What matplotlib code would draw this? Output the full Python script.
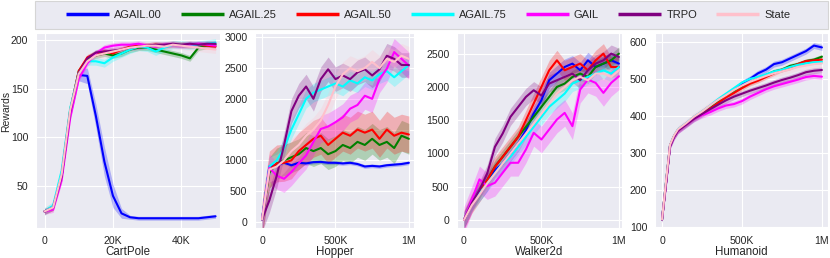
import numpy as np
import seaborn as sns
from matplotlib import pyplot as plt
from matplotlib.patches import Rectangle

sns.set_style("darkgrid")
plt.rcParams['font.family'] = ['Liberation Sans', 'DejaVu Sans']

names = ["AGAIL.00", "AGAIL.25", "AGAIL.50", "AGAIL.75", "GAIL", "TRPO", "State"]
colors = ["blue", "green", "red", "cyan", "magenta", "purple", "pink"]

# CartPole, steps 0..50K every 2.5K
cart_x = np.arange(0, 50001, 2500)
cart_y = [
    [24, 28, 60, 125, 164, 163, 122, 75, 40, 22, 18, 17, 17, 17, 17, 17, 17, 17, 17, 18, 19],
    [24, 28, 62, 128, 168, 180, 184, 186, 184, 186, 190, 192, 192, 190, 188, 186, 184, 181, 192, 194, 195],
    [24, 28, 62, 128, 168, 182, 186, 188, 186, 190, 193, 194, 194, 195, 194, 195, 195, 194, 195, 194, 193],
    [24, 30, 66, 130, 166, 178, 178, 176, 182, 186, 190, 193, 192, 188, 192, 195, 195, 194, 195, 196, 197],
    [24, 26, 56, 120, 160, 176, 186, 192, 194, 195, 195, 196, 194, 193, 195, 195, 194, 195, 196, 195, 194],
    [24, 28, 60, 126, 166, 181, 187, 188, 189, 190, 192, 193, 194, 195, 195, 196, 195, 196, 195, 196, 196],
    [24, 28, 62, 128, 165, 178, 184, 186, 188, 190, 192, 193, 194, 194, 193, 195, 194, 193, 192, 191, 190],
]
cart_band = [
    [1, 2, 3, 5, 6, 8, 12, 15, 12, 5, 2, 2, 2, 2, 2, 2, 2, 2, 2, 2, 2],
    3, 3, 4, 3, 3, 4,
]

# Hopper, steps 0..1M every 50K
hop_x = np.arange(0, 1000001, 50000)
hop_y = [
    [40, 900, 930, 960, 920, 960, 950, 970, 975, 960, 960, 950, 960, 940, 900, 910, 900, 920, 930, 940, 960],
    [40, 800, 950, 1000, 1050, 1100, 1200, 1150, 1200, 1100, 1150, 1250, 1200, 1300, 1250, 1350, 1250, 1300, 1200, 1400, 1350],
    [40, 850, 950, 960, 1000, 1150, 1250, 1350, 1400, 1250, 1350, 1450, 1400, 1500, 1450, 1500, 1350, 1500, 1400, 1450, 1420],
    [40, 900, 1000, 1200, 1500, 1750, 2000, 2100, 2150, 2200, 2250, 2200, 2300, 2250, 2350, 2300, 2400, 2450, 2350, 2450, 2550],
    [40, 880, 750, 700, 810, 950, 1080, 1300, 1510, 1550, 1620, 1700, 1840, 1900, 2050, 2000, 2320, 2490, 2760, 2650, 2540],
    [40, 350, 750, 1250, 1800, 2050, 2200, 2000, 2320, 2480, 2320, 2380, 2320, 2430, 2480, 2380, 2480, 2700, 2650, 2550, 2550],
    [40, 850, 900, 1000, 1150, 1250, 1400, 1500, 1650, 1900, 2200, 2400, 2500, 2450, 2500, 2600, 2500, 2650, 2600, 2700, 2650],
]
hop_band = [30, 250, 300, 150, 220, 200, 200]

# Walker2d
walk_x = np.arange(0, 1000001, 50000)
walk_y = [
    [0, 250, 400, 550, 750, 850, 1000, 1150, 1350, 1600, 1800, 2100, 2200, 2300, 2350, 2250, 2400, 2300, 2350, 2400, 2350],
    [0, 250, 420, 600, 800, 950, 1100, 1250, 1400, 1550, 1700, 1850, 2000, 2050, 2150, 2200, 2150, 2300, 2350, 2400, 2500],
    [0, 250, 420, 600, 800, 950, 1100, 1250, 1500, 1750, 2000, 2250, 2400, 2250, 2300, 2350, 2250, 2400, 2500, 2300, 2300],
    [0, 250, 400, 550, 700, 850, 950, 1100, 1250, 1400, 1550, 1700, 1800, 1900, 2050, 2100, 2150, 2200, 2250, 2200, 2300],
    [0, 300, 610, 510, 560, 710, 860, 860, 1060, 1310, 1210, 1360, 1510, 1610, 1410, 1960, 2110, 2060, 1910, 2060, 2160],
    [0, 250, 450, 700, 1100, 1300, 1550, 1700, 1850, 1950, 1870, 2050, 2100, 2150, 2200, 2100, 2250, 2350, 2400, 2500, 2450],
    [0, 220, 380, 550, 700, 850, 1000, 1150, 1300, 1450, 1600, 1750, 1900, 2000, 2100, 2150, 2100, 2200, 2200, 2150, 2250],
]
walk_band = [120, 100, 150, 120, 200, 130, 100]

# Humanoid, extra samples at 25K and 75K for the early rise
hum_x = np.array([0, 25000, 50000, 75000] + list(range(100000, 1000001, 50000)))
hum_y = [
    [120, 220, 320, 345, 362, 378, 395, 410, 425, 440, 455, 470, 488, 500, 515, 525, 540, 545, 555, 565, 575, 590, 585],
    [120, 220, 320, 345, 362, 378, 395, 410, 425, 440, 455, 468, 480, 490, 500, 510, 520, 525, 535, 540, 548, 552, 560],
    [120, 220, 320, 345, 362, 378, 395, 408, 420, 435, 450, 462, 475, 487, 495, 505, 515, 525, 530, 540, 548, 550, 552],
    [120, 222, 320, 346, 364, 380, 398, 412, 428, 445, 460, 475, 490, 500, 505, 512, 520, 525, 532, 538, 542, 545, 546],
    [120, 216, 318, 343, 360, 376, 392, 402, 410, 420, 428, 432, 440, 452, 462, 472, 480, 486, 492, 498, 505, 508, 506],
    [120, 216, 318, 343, 360, 376, 392, 405, 418, 430, 442, 452, 460, 468, 475, 482, 490, 497, 503, 510, 518, 522, 524],
    [120, 224, 322, 347, 364, 380, 398, 412, 428, 443, 456, 470, 482, 492, 500, 508, 515, 520, 526, 532, 536, 540, 542],
]
hum_band = [8, 6, 6, 6, 8, 8, 10]

panels = [
    ("CartPole", cart_x, cart_y, cart_band, (-2500, 51300), (7, 207),
     [0, 20000, 40000], ["0", "20K", "40K"], [50, 100, 150, 200]),
    ("Hopper", hop_x, hop_y, hop_band, (-48000, 1035000), (-100, 3070),
     [0, 500000, 1000000], ["0", "500K", "1M"], [0, 500, 1000, 1500, 2000, 2500, 3000]),
    ("Walker2d", walk_x, walk_y, walk_band, (-45000, 1020000), (-120, 2810),
     [0, 500000, 1000000], ["0", "500K", "1M"], [0, 500, 1000, 1500, 2000, 2500]),
    ("Humanoid", hum_x, hum_y, hum_band, (-44000, 1038000), (97, 624),
     [0, 500000, 1000000], ["0", "500K", "1M"], [100, 200, 300, 400, 500, 600]),
]

# axes boxes in pixels: left, width
boxes = [(36, 184), (255, 159), (457, 165), (655, 173)]

fig = plt.figure(figsize=(8.3, 2.58), dpi=100)
for (title, x, ys, bands, xl, yl, xt, xtl, yt), (left, w) in zip(panels, boxes):
    ax = fig.add_axes([left / 830, 30 / 258, w / 830, 195 / 258])
    for y, b, c in zip(ys, bands, colors):
        y = np.array(y, dtype=float)
        ax.fill_between(x, y - np.array(b), y + np.array(b), color=c, alpha=0.25, lw=0)
        ax.plot(x, y, color=c, lw=1.5)
    ax.set_xlim(*xl)
    ax.set_ylim(*yl)
    ax.set_xticks(xt)
    ax.set_xticklabels(xtl)
    ax.set_yticks(yt)
    ax.tick_params(labelsize=7.6, pad=2)
    ax.set_xlabel(title, fontsize=8.3, labelpad=0)
    if title == "CartPole":
        ax.set_ylabel("Rewards", fontsize=7.5)
        ax.yaxis.set_label_coords(-25 / w, 0.6)

# legend box across the top
fig.patches.append(Rectangle((35 / 830, 229 / 258), 793 / 830, 28 / 258, transform=fig.transFigure,
                             facecolor="#EAEAF2", edgecolor="#D5D5D5", lw=0.8))
handles = [plt.Line2D([], [], color=c, lw=2.5, solid_capstyle="butt") for c in colors]
fig.legend(handles, names, loc="center", bbox_to_anchor=(428 / 830, 243 / 258), ncol=7,
           frameon=False, fontsize=8, handlelength=3.9, handletextpad=0.45, columnspacing=1.7)

fig.savefig("out.png", dpi=100)
